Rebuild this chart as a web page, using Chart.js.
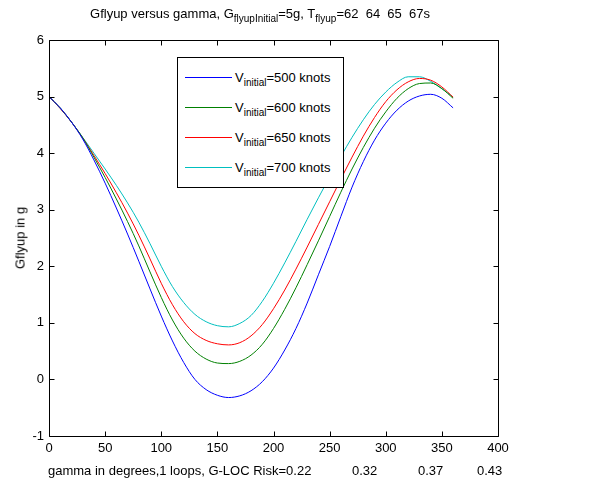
<!DOCTYPE html>
<html>
<head>
<meta charset="utf-8">
<script src="https://cdn.jsdelivr.net/npm/chart.js@4.4.0/dist/chart.umd.min.js"></script>
<style>
  html, body { margin: 0; padding: 0; background: #fff; }
  #wrap { position: relative; width: 611px; height: 498px; font-family: "Liberation Sans", Arial, sans-serif; color: #000; overflow: hidden; }
  #chart { position: absolute; left: 0; top: 0; }
  .txt { position: absolute; white-space: pre; font-size: 13px; line-height: 13px; }
  sub { font-size: 10px; vertical-align: -4px; line-height: 0; }
  #title { left: 0; width: 520px; text-align: center; top: 7px; }
  #legend { position: absolute; left: 177px; top: 57px; width: 165px; height: 129px; border: 1px solid #000; background: #fff; }
  .item { position: absolute; left: 0; width: 165px; height: 20px; }
  .swatch { position: absolute; left: 7px; top: 9px; width: 47px; height: 0; border-top: 1px solid; }
  .lab { position: absolute; left: 57px; top: 3px; }
  #ylab { position: absolute; left: 20px; top: 238px; transform: translate(-50%, -50%) rotate(-90deg); }
</style>
</head>
<body>
<div id="wrap">
  <canvas id="chart" width="611" height="498"></canvas>
  <div id="title" class="txt"></div>
  <div id="ylab" class="txt">Gflyup in g</div>
  <div id="xlab"></div>
  <div id="legend"></div>
</div>
<script>
const gammaDeg = [0, 10, 20, 30, 40, 50, 60, 70, 80, 90, 100, 110, 120, 130, 140, 150, 160, 170, 180,
  190, 200, 210, 220, 230, 240, 250, 260, 270, 280, 290, 300, 310, 320, 330, 340, 350, 360];

const g500 = [5.0, 4.8, 4.55, 4.25, 3.88, 3.47, 3.03, 2.57, 2.09, 1.6, 1.12, 0.68, 0.3, 0.0, -0.18, -0.28, -0.32, -0.29, -0.2,
  -0.04, 0.2, 0.52, 0.9, 1.35, 1.85, 2.35, 2.88, 3.4, 3.85, 4.23, 4.53, 4.76, 4.92, 5.01, 5.04, 4.97, 4.8];
const g600 = [5.0, 4.8, 4.55, 4.27, 3.93, 3.57, 3.19, 2.79, 2.36, 1.9, 1.45, 1.05, 0.73, 0.5, 0.36, 0.29, 0.28, 0.32, 0.43,
  0.62, 0.9, 1.24, 1.62, 2.03, 2.45, 2.88, 3.31, 3.72, 4.1, 4.44, 4.73, 4.97, 5.14, 5.23, 5.24, 5.14, 4.97];
const g650 = [5.0, 4.79, 4.55, 4.27, 3.96, 3.64, 3.3, 2.94, 2.55, 2.13, 1.7, 1.32, 1.02, 0.81, 0.69, 0.63, 0.61, 0.65, 0.77,
  0.97, 1.25, 1.58, 1.95, 2.34, 2.74, 3.14, 3.54, 3.93, 4.3, 4.63, 4.91, 5.12, 5.26, 5.32, 5.29, 5.17, 4.99];
const g700 = [5.0, 4.79, 4.55, 4.28, 4.0, 3.72, 3.43, 3.12, 2.78, 2.4, 2.0, 1.64, 1.36, 1.15, 1.02, 0.95, 0.93, 0.99, 1.13,
  1.38, 1.7, 2.06, 2.44, 2.83, 3.21, 3.58, 3.94, 4.28, 4.59, 4.86, 5.08, 5.25, 5.35, 5.35, 5.27, 5.14, 4.99];

const speeds = [500, 600, 650, 700];
const colors = ['#0000ff', '#008000', '#ff0000', '#00bfbf'];
const flyupTimes = [62, 64, 65, 67];
const riskLabels = ['0.22', '0.32', '0.37', '0.43'];
const xTickValues = [0, 50, 100, 150, 200, 250, 300, 350, 400];
const yTickValues = [-1, 0, 1, 2, 3, 4, 5, 6];

const series = [g500, g600, g650, g700];
const TICK = 5;

// inward tick marks and box, like the matlab axes
const frameTicks = {
  id: 'frameTicks',
  afterDatasetsDraw(chart) {
    const { ctx, chartArea: a, scales: { x, y } } = chart;
    const l = Math.round(a.left) + 0.5, r = Math.round(a.right) + 0.5;
    const t = Math.round(a.top) + 0.5, b = Math.round(a.bottom) + 0.5;
    ctx.save();
    ctx.strokeStyle = '#000';
    ctx.lineWidth = 1;
    ctx.beginPath();
    ctx.rect(l, t, r - l, b - t);
    x.ticks.forEach(tk => {
      const px = Math.round(x.getPixelForValue(tk.value)) + 0.5;
      ctx.moveTo(px, b); ctx.lineTo(px, b - TICK);
      ctx.moveTo(px, t); ctx.lineTo(px, t + TICK);
    });
    y.ticks.forEach(tk => {
      const py = Math.round(y.getPixelForValue(tk.value)) + 0.5;
      ctx.moveTo(l, py); ctx.lineTo(l + TICK, py);
      ctx.moveTo(r, py); ctx.lineTo(r - TICK, py);
    });
    ctx.stroke();
    ctx.restore();
  },
};

new Chart(document.getElementById('chart'), {
  type: 'line',
  data: {
    datasets: series.map((vals, i) => ({
      label: `Vinitial=${speeds[i]} knots`,
      data: vals.map((v, k) => ({ x: gammaDeg[k], y: v })),
      borderColor: colors[i],
      borderWidth: 1,
      pointRadius: 0,
      fill: false,
      cubicInterpolationMode: 'monotone',
    })),
  },
  options: {
    responsive: false,
    animation: false,
    devicePixelRatio: 1,
    layout: { padding: { top: 40, right: 113, left: 0, bottom: 0 } },
    plugins: {
      legend: { display: false },
      tooltip: { enabled: false },
    },
    scales: {
      x: {
        type: 'linear',
        min: 0,
        max: 400,
        afterBuildTicks: (s) => { s.ticks = xTickValues.map(v => ({ value: v })); },
        afterFit: (s) => { s.height = 62; },
        grid: { display: false, drawTicks: false },
        border: { display: false },
        ticks: { color: '#000', padding: 5, maxRotation: 0, font: { family: 'Liberation Sans', size: 13 } },
      },
      y: {
        min: -1,
        max: 6,
        afterBuildTicks: (s) => { s.ticks = yTickValues.map(v => ({ value: v })); },
        afterFit: (s) => { s.width = 49; },
        grid: { display: false, drawTicks: false },
        border: { display: false },
        ticks: { color: '#000', padding: 5, font: { family: 'Liberation Sans', size: 13 } },
      },
    },
  },
  plugins: [frameTicks],
});

// title
document.getElementById('title').innerHTML =
  `Gflyup versus gamma, G<sub>flyupInitial</sub>=5g, T<sub>flyup</sub>=${flyupTimes.join('  ')}s`;

// x label with the risk values spaced under the axis
const xlab = document.getElementById('xlab');
const riskX = [48, 352, 418, 477];
riskLabels.forEach((r, i) => {
  const span = document.createElement('div');
  span.className = 'txt';
  span.textContent = i === 0 ? `gamma in degrees,1 loops, G-LOC Risk=${r}` : r;
  span.style.left = riskX[i] + 'px';
  span.style.top = '464px';
  xlab.appendChild(span);
});

// legend
const legend = document.getElementById('legend');
const rowY = [77, 107, 137, 167];
speeds.forEach((sp, i) => {
  const item = document.createElement('div');
  item.className = 'item';
  item.style.top = (rowY[i] - 57 - 10) + 'px';
  item.innerHTML = `<div class="swatch" style="border-color:${colors[i]}"></div>` +
    `<div class="lab txt">V<sub>initial</sub>=${sp} knots</div>`;
  legend.appendChild(item);
});
</script>
</body>
</html>
